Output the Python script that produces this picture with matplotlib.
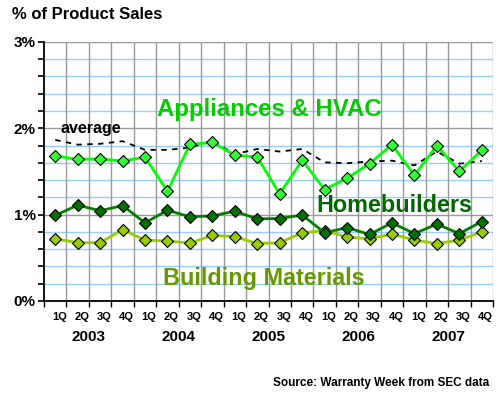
import numpy as np
import matplotlib
matplotlib.use("Agg")
import matplotlib.pyplot as plt

plt.rcParams['font.family'] = ['Liberation Sans', 'DejaVu Sans']
plt.rcParams['font.weight'] = 'bold'

quarters = ['1Q', '2Q', '3Q', '4Q'] * 5
years = ['2003', '2004', '2005', '2006', '2007']

appliances = [1.68, 1.64, 1.645, 1.62, 1.665, 1.27, 1.815, 1.835, 1.69, 1.665,
              1.24, 1.63, 1.29, 1.42, 1.59, 1.81, 1.455, 1.80, 1.50, 1.745]
homebuilders = [0.99, 1.11, 1.045, 1.105, 0.905, 1.05, 0.975, 0.985, 1.04, 0.95,
                0.955, 0.995, 0.79, 0.85, 0.77, 0.905, 0.78, 0.89, 0.78, 0.92]
building = [0.72, 0.675, 0.675, 0.825, 0.705, 0.695, 0.67, 0.76, 0.745, 0.665,
            0.675, 0.79, 0.815, 0.74, 0.72, 0.775, 0.705, 0.665, 0.705, 0.80]
average = [1.865, 1.81, 1.82, 1.85, 1.75, 1.75, 1.775, 1.855, 1.70, 1.76,
           1.73, 1.76, 1.605, 1.595, 1.615, 1.625, 1.57, 1.73, 1.59, 1.62]

x = np.arange(len(quarters))

fig = plt.figure(figsize=(5.0, 3.95), dpi=100)
ax = fig.add_axes([0.088, 0.238, 0.898, 0.656])

ax.plot(x, average, color='black', lw=1.3, ls=(0, (3, 3)), zorder=3)
ax.plot(x, building, color='#99cc00', lw=2, marker='D', ms=6.5,
        mfc='#99cc00', mec='black', mew=0.8, zorder=4)
ax.plot(x, homebuilders, color='#008000', lw=2, marker='D', ms=6.5,
        mfc='#007000', mec='black', mew=0.8, zorder=4)
ax.plot(x, appliances, color='#00ff00', lw=2, marker='D', ms=6.5,
        mfc='#33ff33', mec='black', mew=0.8, zorder=5)

ax.set_xlim(-0.5, len(x) - 0.5)
ax.set_ylim(0, 3)

# grid
for v in np.arange(0.2, 3.0, 0.2):
    if abs(v - round(v)) > 0.01:
        ax.axhline(v, color='#99ccff', lw=1, zorder=1)
for v in [1, 2, 3]:
    ax.axhline(v, color='#999999', lw=1, zorder=1)
for b in np.arange(0.5, len(x), 1.0):
    ax.axvline(b, color='#999999', lw=1, zorder=1)

for s in ['top', 'right']:
    ax.spines[s].set_visible(False)
ax.spines['left'].set_linewidth(1.3)
ax.spines['bottom'].set_linewidth(1.3)

ax.set_yticks([0, 1, 2, 3])
ax.set_yticklabels(['0%', '1%', '2%', '3%'], fontsize=11, fontweight='bold')
ax.set_yticks(np.arange(0, 3.01, 0.2), minor=True)
ax.tick_params(axis='y', which='both', direction='out', length=4, width=1.2, pad=2)

ax.set_xticks(np.arange(-0.5, len(x), 1.0))
ax.set_xticklabels([])
ax.tick_params(axis='x', direction='out', length=4, width=1)

trans = ax.get_xaxis_transform()
for i, q in enumerate(quarters):
    ax.text(i + 0.18, -0.06, q, transform=trans, ha='center', va='center',
            fontsize=8, fontweight='bold')
for k, yr in enumerate(years):
    ax.text(4 * k + 1.5, -0.138, yr, transform=trans, ha='center', va='center',
            fontsize=11, fontweight='bold')

ax.text(4.53, 2.147, 'Appliances & HVAC', color='#00cc00', fontsize=17.3,
        fontweight='bold', ha='left', va='baseline', zorder=6)
ax.text(11.65, 1.035, 'Homebuilders', color='#006600', fontsize=16.8,
        fontweight='bold', ha='left', va='baseline', zorder=6)
ax.text(4.79, 0.185, 'Building Materials', color='#669900', fontsize=16.8,
        fontweight='bold', ha='left', va='baseline', zorder=6)
ax.text(0.24, 1.943, 'average', color='black', fontsize=11.5,
        fontweight='bold', ha='left', va='baseline', zorder=6)

fig.text(0.024, 0.963, '% of Product Sales', fontsize=12, fontweight='bold',
         ha='left', va='center')
fig.text(0.978, 0.030, 'Source: Warranty Week from SEC data', fontsize=8.5,
         fontweight='bold', ha='right', va='center')

fig.savefig('out.png', dpi=100)
